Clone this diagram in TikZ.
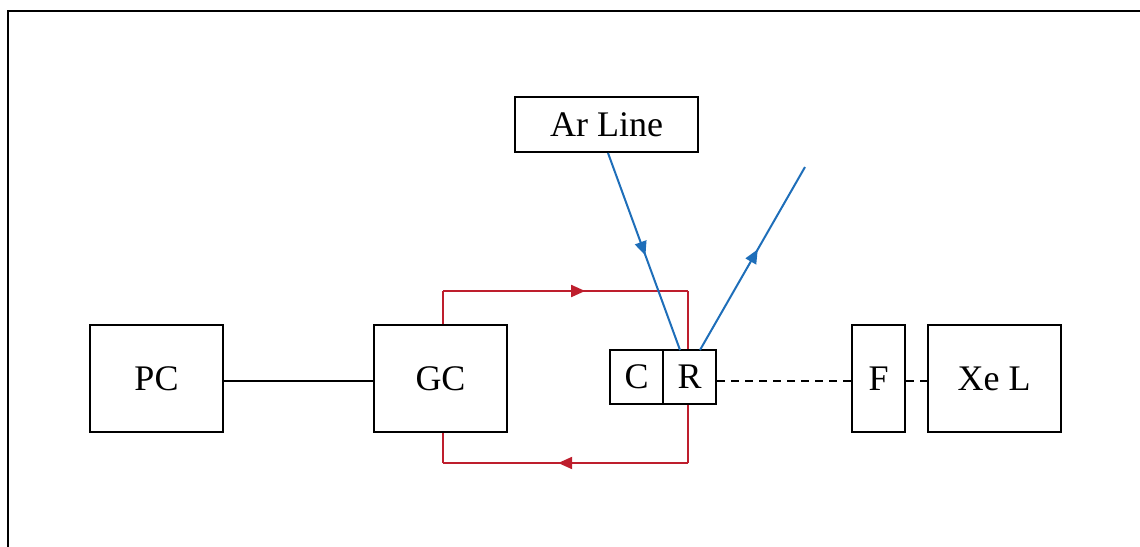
\documentclass[tikz,border=0pt]{standalone}
\usepackage{fontspec}
\setmainfont{Liberation Serif}
\usetikzlibrary{arrows.meta,decorations.markings,calc}
\definecolor{lred}{RGB}{190,30,45}
\definecolor{lblue}{RGB}{30,110,185}
\tikzset{
  lbl/.style={draw=black,line width=2pt,inner sep=0pt,font=\fontsize{36}{38}\selectfont,yshift=0pt},
  box/.style={lbl,minimum width=133pt,minimum height=107pt},
  smallbox/.style={lbl,minimum width=53pt,minimum height=54pt},
  tallbox/.style={lbl,minimum width=53pt,minimum height=107pt},
  redline/.style={draw=lred,line width=2pt},
  blueline/.style={draw=lblue,line width=2pt},
  midarrow/.style={postaction={decorate},decoration={markings,mark=at position #1 with {\arrow{Triangle[length=14pt,width=12pt]}}}},
}
\begin{document}
\begin{tikzpicture}[x=1pt,y=-1pt]
\useasboundingbox (0,0) rectangle (1140,546);
\draw[line width=2.2pt] (8,548) -- (8,11) -- (1142,11);
\node[box] (PC) at (156.5,378.5) {PC};
\node[box] (GC) at (440.5,378.5) {GC};
\node[smallbox] (C) at (636.5,377) {C};
\node[smallbox] (R) at (689.5,377) {R};
\node[tallbox] (F) at (878.5,378.5) {F};
\node[box] (XE) at (994,378.5) {Xe L};
\node[lbl,minimum width=183pt,minimum height=55pt] (AR) at (606.5,124.5) {Ar Line};
\draw[line width=2pt] (PC.east |- 0,381) -- (GC.west |- 0,381);
\draw[line width=2pt,dash pattern=on 8pt off 6pt] (R.east |- 0,381) -- (F.west |- 0,381);
\draw[line width=2pt,dash pattern=on 8pt off 6pt] (F.east |- 0,381) -- (XE.west |- 0,381);
\coordinate (tl) at (443,291);
\coordinate (tr) at (688,291);
\coordinate (bl) at (443,463);
\coordinate (br) at (688,463);
\draw[redline] (GC.north -| tl) -- (tl);
\draw[redline,midarrow=0.58] (tl) -- (tr);
\draw[redline] (tr) -- (R.north -| tr);
\draw[redline] (R.south -| br) -- (br);
\draw[redline,midarrow=0.53] (br) -- (bl);
\draw[redline] (bl) -- (GC.south -| bl);
\coordinate (inR) at (680,350);
\coordinate (outR) at (700,350);
\coordinate (outE) at (805,167);
\draw[blueline,midarrow=0.52] (AR.south -| 608,0) -- (inR);
\draw[blueline,midarrow=0.55] (outR) -- (outE);
\end{tikzpicture}
\end{document}
